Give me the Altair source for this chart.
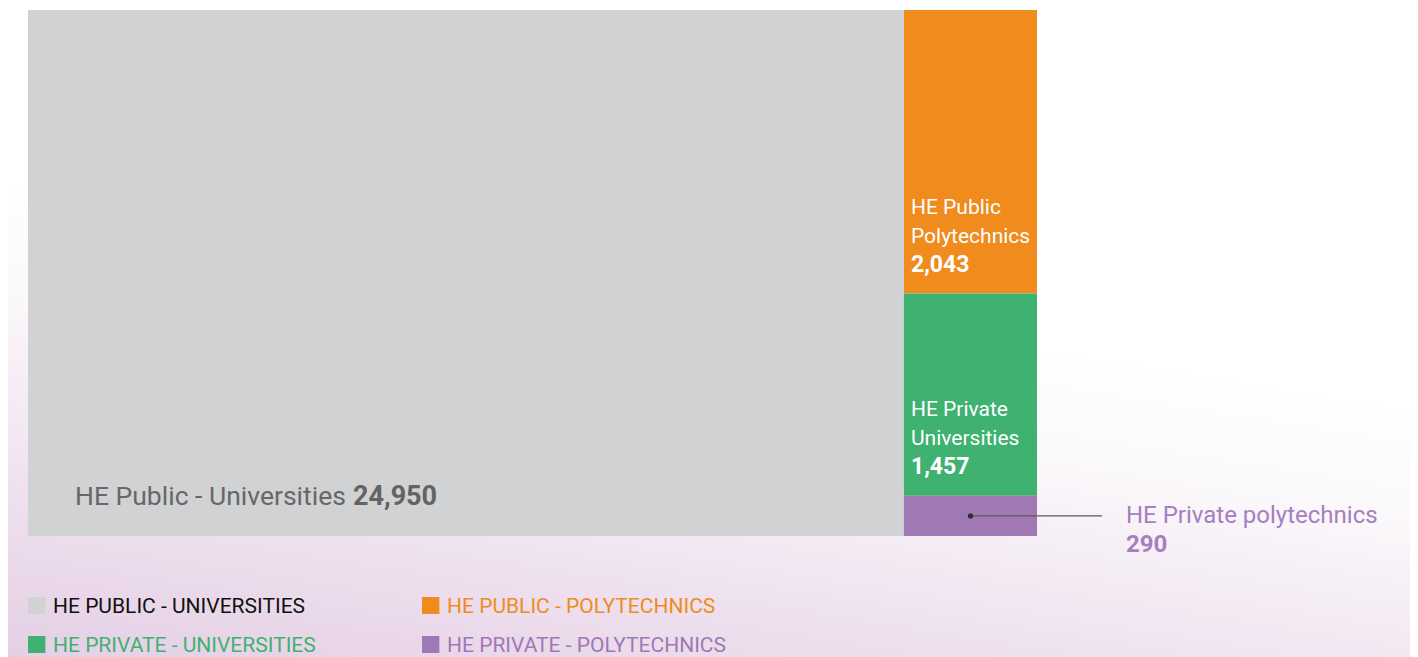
import altair as alt
import pandas as pd

# ---- data ----
categories = ["HE Public - Universities", "HE Public Polytechnics",
              "HE Private Universities", "HE Private polytechnics"]
name_lines = ["HE Public - Universities", "HE Public\nPolytechnics",
              "HE Private\nUniversities", "HE Private polytechnics"]
values = [24950, 2043, 1457, 290]
value_labels = ["24,950", "2,043", "1,457", "290"]
legend_labels = ["HE PUBLIC - UNIVERSITIES", "HE PUBLIC - POLYTECHNICS",
                 "HE PRIVATE - UNIVERSITIES", "HE PRIVATE - POLYTECHNICS"]
palette = ["#d1d2d4", "#f08b1d", "#3fb171", "#a078b4"]
legend_text_palette = ["#111111", "#f08b1d", "#3fb171", "#a078b4"]
roles = ["main", "col", "col", "callout"]

# ---- slice-and-dice treemap layout in unit coordinates ----
total = sum(values)
main_w = values[0] / total
rest = sum(values[1:])
rows = []
y = 0.0
for i, (c, n, v, lab, r) in enumerate(zip(categories, name_lines, values, value_labels, roles)):
    if i == 0:
        x0, x1, y0, y1 = 0.0, main_w, 0.0, 1.0
    else:
        h = v / rest
        x0, x1, y0, y1 = main_w, 1.0, y, y + h
        y += h
    rows.append(dict(cat=c, name=n, vlabel=lab, role=r, x0=x0, x1=x1, y0=y0, y1=y1,
                     xc=(x0 + x1) / 2, yc=(y0 + y1) / 2))
tm = pd.DataFrame(rows)

# legend table (2 columns x 2 rows, laid out below the treemap in the same units)
leg_rows = []
for i, (c, lab, tc) in enumerate(zip(categories, legend_labels, legend_text_palette)):
    col, row = i % 2, i // 2
    lx0 = col * 0.3905
    ly0 = 1.1160 + row * 0.0741
    leg_rows.append(dict(cat=c, label=lab, tcolor=tc, lx0=lx0, lx1=lx0 + 0.0172,
                         ly0=ly0, ly1=ly0 + 0.0323))
leg = pd.DataFrame(leg_rows)

W, H = 1402, 649
XS = alt.Scale(domain=[0, 1], range=[20, 1029], nice=False, zero=False)
YS = alt.Scale(domain=[0, 1], range=[2, 528], nice=False, zero=False)
CS = alt.Scale(domain=categories, range=palette)
FONT = "Roboto"

base = alt.Chart(tm)

bg = alt.Chart(alt.Data(values=[{"a": 1}])).mark_rect(
    fill=alt.Gradient(
        gradient="linear", x1=0.0, y1=1.0, x2=0.35, y2=0.0,
        stops=[alt.GradientStop(offset=0.0, color="#e5cfe5"),
               alt.GradientStop(offset=0.22, color="#eee0ee"),
               alt.GradientStop(offset=0.5, color="#fbf8fb"),
               alt.GradientStop(offset=0.65, color="#ffffff"),
               alt.GradientStop(offset=1.0, color="#ffffff")]),
).encode(x=alt.value(0), x2=alt.value(W), y=alt.value(0), y2=alt.value(H))

rects = base.mark_rect(strokeWidth=0).encode(
    x=alt.X("x0:Q", scale=XS, axis=None),
    x2="x1:Q",
    y=alt.Y("y0:Q", scale=YS, axis=None),
    y2="y1:Q",
    color=alt.Color("cat:N", scale=CS, legend=None),
)

main_name = base.transform_filter("datum.role == 'main'").mark_text(
    align="left", baseline="alphabetic", dx=47, dy=-31, fontSize=26.5,
    font=FONT, color="#676767").encode(
    x=alt.X("x0:Q", scale=XS), y=alt.Y("y1:Q", scale=YS), text="name:N")
main_num = base.transform_filter("datum.role == 'main'").mark_text(
    align="left", baseline="alphabetic", dx=325, dy=-31, fontSize=27,
    font=FONT, fontWeight="bold", color="#636363").encode(
    x=alt.X("x0:Q", scale=XS), y=alt.Y("y1:Q", scale=YS), text="vlabel:N")

col_name = base.transform_filter("datum.role == 'col'").mark_text(
    align="left", baseline="alphabetic", dx=7, dy=-80, fontSize=21, lineHeight=29,
    lineBreak="\n", font=FONT, color="white").encode(
    x=alt.X("x0:Q", scale=XS), y=alt.Y("y1:Q", scale=YS), text="name:N")
col_num = base.transform_filter("datum.role == 'col'").mark_text(
    align="left", baseline="alphabetic", dx=7, dy=-22, fontSize=23,
    font=FONT, fontWeight="bold", color="white").encode(
    x=alt.X("x0:Q", scale=XS), y=alt.Y("y1:Q", scale=YS), text="vlabel:N")

co = base.transform_filter("datum.role == 'callout'")
lead = co.mark_rule(color="#5a5a5a", strokeWidth=1.3, x2Offset=65).encode(
    x=alt.X("xc:Q", scale=XS), x2="x1:Q", y=alt.Y("yc:Q", scale=YS))
dot = co.mark_circle(size=28, color="#2e2e2e", opacity=1).encode(
    x=alt.X("xc:Q", scale=XS), y=alt.Y("yc:Q", scale=YS))
co_name = co.mark_text(
    align="left", baseline="alphabetic", dx=89, dy=7, fontSize=24,
    font=FONT, color="#a67fc0").encode(
    x=alt.X("x1:Q", scale=XS), y=alt.Y("yc:Q", scale=YS), text="name:N")
co_num = co.mark_text(
    align="left", baseline="alphabetic", dx=89, dy=36, fontSize=24,
    font=FONT, fontWeight="bold", color="#a67fc0").encode(
    x=alt.X("x1:Q", scale=XS), y=alt.Y("yc:Q", scale=YS), text="vlabel:N")

lbase = alt.Chart(leg)
leg_sq = lbase.mark_rect(strokeWidth=0).encode(
    x=alt.X("lx0:Q", scale=XS), x2="lx1:Q",
    y=alt.Y("ly0:Q", scale=YS), y2="ly1:Q",
    color=alt.Color("cat:N", scale=CS, legend=None))
leg_tx = lbase.mark_text(
    align="left", baseline="alphabetic", dx=25, dy=-1, fontSize=21,
    font=FONT).encode(
    x=alt.X("lx0:Q", scale=XS), y=alt.Y("ly1:Q", scale=YS), text="label:N",
    color=alt.Color("tcolor:N", scale=None))

chart = alt.layer(
    bg, rects, main_name, main_num, col_name, col_num,
    lead, dot, co_name, co_num, leg_sq, leg_tx
).properties(
    width=W, height=H, padding=0, autosize=alt.AutoSizeParams(type="none")
).configure_view(stroke=None)

chart.save("out.html", embed_options={"renderer": "svg", "actions": False})
